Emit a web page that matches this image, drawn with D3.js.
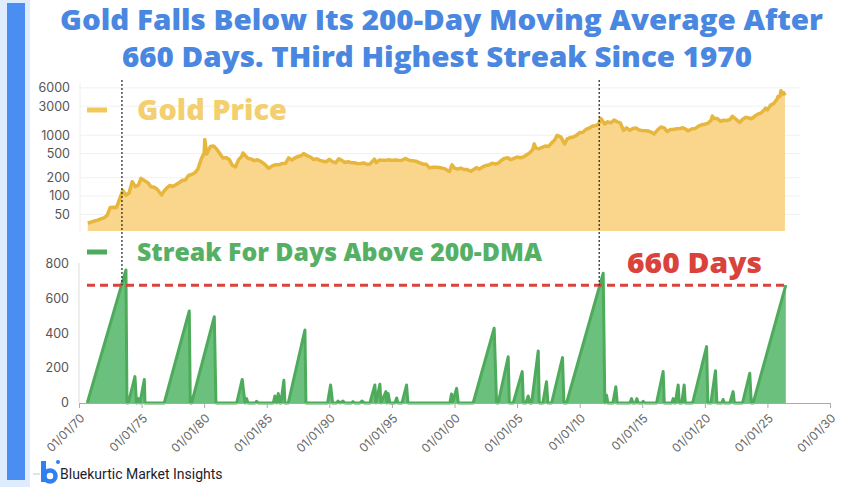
<!DOCTYPE html>
<html>
<head>
<meta charset="utf-8">
<script src="https://cdn.jsdelivr.net/npm/d3@7"></script>
<style>
  body { margin: 0; background: #fff; }
  svg { display: block; }
</style>
</head>
<body>
<div id="chart"></div>
<script>
const width = 860;
const height = 487;

// gold price, [decimal year, USD/oz]
const goldSeries = [
  [1970.70, 36], [1971.00, 37.4], [1971.25, 38.9], [1971.50, 40.1], [1971.75, 42], [1972.00, 43.6],
  [1972.25, 48.3], [1972.50, 65], [1972.75, 65.5], [1973.00, 64.9], [1973.25, 90], [1973.50, 123],
  [1973.75, 103], [1974.00, 112], [1974.25, 172], [1974.50, 143], [1974.75, 152], [1974.95, 195],
  [1975.25, 178], [1975.50, 166], [1975.75, 142], [1976.00, 140], [1976.25, 129], [1976.60, 104],
  [1976.75, 117], [1977.00, 135], [1977.25, 149], [1977.50, 143], [1977.75, 154], [1978.00, 165],
  [1978.25, 182], [1978.50, 184], [1978.75, 218], [1979.00, 226], [1979.25, 241], [1979.50, 278],
  [1979.75, 397], [1980.00, 512], [1980.05, 850], [1980.20, 490], [1980.50, 653], [1980.75, 667],
  [1981.00, 590], [1981.25, 500], [1981.50, 423], [1981.75, 428], [1982.00, 400], [1982.25, 320],
  [1982.50, 300], [1982.75, 397], [1983.00, 448], [1983.10, 510], [1983.50, 415], [1983.75, 405],
  [1984.00, 382], [1984.25, 394], [1984.50, 373], [1984.75, 344], [1985.00, 309], [1985.15, 285],
  [1985.50, 317], [1985.75, 326], [1986.00, 327], [1986.25, 344], [1986.50, 345], [1986.75, 423],
  [1987.00, 391], [1987.25, 421], [1987.50, 448], [1987.75, 459], [1987.95, 500], [1988.25, 456],
  [1988.50, 436], [1988.75, 397], [1989.00, 410], [1989.25, 386], [1989.50, 373], [1989.75, 366],
  [1990.00, 401], [1990.25, 368], [1990.50, 352], [1990.75, 408], [1991.00, 386], [1991.25, 356],
  [1991.50, 366], [1991.75, 354], [1992.00, 353], [1992.25, 341], [1992.50, 343], [1992.75, 350],
  [1993.00, 333], [1993.25, 337], [1993.60, 405], [1993.75, 355], [1994.00, 391], [1994.25, 389],
  [1994.50, 386], [1994.75, 394], [1995.00, 383], [1995.25, 392], [1995.50, 387], [1995.75, 384],
  [1996.10, 415], [1996.25, 396], [1996.50, 382], [1996.75, 379], [1997.00, 369], [1997.25, 349],
  [1997.50, 334], [1997.75, 332], [1998.00, 290], [1998.25, 298], [1998.50, 296], [1998.75, 294],
  [1999.00, 288], [1999.25, 279], [1999.60, 253], [1999.80, 325], [2000.00, 288], [2000.25, 277],
  [2000.50, 288], [2000.75, 273], [2001.00, 272], [2001.30, 256], [2001.50, 270], [2001.75, 293],
  [2002.00, 277], [2002.25, 301], [2002.50, 318], [2002.75, 323], [2003.00, 347], [2003.25, 334],
  [2003.50, 346], [2003.75, 388], [2004.00, 416], [2004.25, 427], [2004.50, 395], [2004.75, 416],
  [2005.00, 438], [2005.25, 427], [2005.50, 437], [2005.75, 473], [2006.00, 513], [2006.25, 582],
  [2006.37, 720], [2006.50, 613], [2006.75, 599], [2007.00, 632], [2007.25, 663], [2007.50, 650],
  [2007.75, 743], [2008.00, 834], [2008.20, 1000], [2008.50, 930], [2008.80, 720], [2009.00, 869],
  [2009.25, 916], [2009.50, 934], [2009.75, 996], [2010.00, 1104], [2010.25, 1115], [2010.50, 1244],
  [2010.75, 1307], [2011.00, 1405], [2011.25, 1439], [2011.50, 1505], [2011.68, 1895], [2012.00, 1531],
  [2012.25, 1662], [2012.50, 1598], [2012.75, 1776], [2013.00, 1657], [2013.25, 1598], [2013.50, 1200],
  [2013.75, 1326], [2014.00, 1205], [2014.25, 1292], [2014.50, 1315], [2014.75, 1217], [2015.00, 1199],
  [2015.25, 1187], [2015.50, 1172], [2015.75, 1115], [2015.95, 1050], [2016.25, 1233], [2016.50, 1365],
  [2016.75, 1322], [2017.00, 1146], [2017.25, 1245], [2017.50, 1242], [2017.75, 1283], [2018.00, 1291],
  [2018.25, 1325], [2018.50, 1250], [2018.65, 1180], [2019.00, 1279], [2019.25, 1292], [2019.50, 1409],
  [2019.75, 1485], [2020.00, 1515], [2020.25, 1577], [2020.50, 1768], [2020.60, 2067], [2020.75, 1886],
  [2021.00, 1888], [2021.25, 1691], [2021.50, 1763], [2021.75, 1743], [2022.00, 1806], [2022.20, 2050],
  [2022.50, 1817], [2022.80, 1630], [2023.00, 1812], [2023.25, 1969], [2023.50, 1919], [2023.75, 1871],
  [2024.00, 2063], [2024.25, 2230], [2024.50, 2330], [2024.75, 2630], [2024.85, 2780], [2025.00, 2610],
  [2025.25, 3120], [2025.50, 3300], [2025.75, 3860], [2025.85, 4350], [2026.00, 4320], [2026.08, 5400],
  [2026.20, 4800], [2026.30, 5000], [2026.40, 4500]
];

// consecutive trading days above the 200-day moving average, [decimal year, days]
const streakSeries = [
  [1970.66, 0], [1973.75, 762], [1973.83, 0], [1973.94, 0], [1974.47, 151], [1974.59, 0],
  [1974.75, 25], [1974.87, 0], [1975.22, 135], [1975.27, 0], [1976.81, 0], [1978.81, 527],
  [1978.89, 0], [1979.00, 0], [1980.81, 494], [1980.94, 0], [1982.60, 0], [1983.04, 135],
  [1983.26, 0], [1983.39, 25], [1983.50, 0], [1984.06, 0], [1984.19, 10], [1984.32, 0],
  [1985.52, 0], [1985.65, 40], [1985.79, 0], [1985.92, 55], [1986.05, 0], [1986.13, 0],
  [1986.37, 130], [1986.45, 0], [1986.72, 0], [1988.05, 418], [1988.13, 0], [1989.86, 0],
  [1990.10, 103], [1990.26, 0], [1990.58, 0], [1990.69, 11], [1990.85, 0], [1991.09, 11],
  [1991.25, 0], [1991.78, 0], [1991.89, 8], [1992.04, 0], [1992.44, 0], [1992.60, 11],
  [1992.82, 0], [1993.24, 0], [1993.64, 103], [1993.72, 0], [1994.04, 107], [1994.12, 0],
  [1994.52, 65], [1994.60, 0], [1994.70, 55], [1994.84, 0], [1995.24, 0], [1995.38, 29],
  [1995.48, 0], [1995.80, 0], [1996.17, 103], [1996.28, 0], [1999.63, 0], [1999.76, 52],
  [1999.83, 0], [2000.17, 84], [2000.30, 0], [2001.49, 0], [2003.17, 428], [2003.36, 0],
  [2003.49, 0], [2004.29, 265], [2004.38, 0], [2004.69, 0], [2005.41, 180], [2005.50, 0],
  [2005.70, 0], [2005.89, 40], [2006.02, 0], [2006.16, 0], [2006.69, 298], [2006.77, 0],
  [2007.06, 0], [2007.35, 122], [2007.46, 0], [2007.76, 0], [2008.63, 260], [2008.74, 0],
  [2008.95, 0], [2011.88, 743], [2012.01, 0], [2012.15, 45], [2012.25, 0], [2012.65, 0],
  [2012.89, 93], [2013.00, 0], [2014.01, 0], [2014.15, 25], [2014.25, 0], [2014.45, 0],
  [2014.57, 25], [2014.67, 0], [2014.97, 0], [2015.07, 10], [2015.21, 0], [2016.14, 0],
  [2016.67, 180], [2016.76, 0], [2017.36, 0], [2017.47, 25], [2017.56, 0], [2017.64, 0],
  [2017.87, 103], [2017.96, 0], [2018.16, 0], [2018.35, 103], [2018.44, 0], [2019.02, 0],
  [2020.14, 323], [2020.24, 0], [2020.48, 0], [2020.85, 185], [2020.96, 0], [2021.36, 0],
  [2021.46, 20], [2021.56, 0], [2022.00, 0], [2022.26, 65], [2022.36, 0], [2023.01, 0],
  [2023.59, 170], [2023.71, 0], [2023.86, 0], [2026.47, 675]
];

const goldTicks = [50, 100, 200, 500, 1000, 3000, 6000];
const streakTicks = [0, 200, 400, 600, 800];
const yearTicks = [1970, 1975, 1980, 1985, 1990, 1995, 2000, 2005, 2010, 2015, 2020, 2025, 2030];
const markerYears = [1973.43, 2011.56];
const recordLevel = 675;

const titleLines = [
  "Gold Falls Below Its 200-Day Moving Average After",
  "660 Days. THird Highest Streak Since 1970"
];

const svg = d3.select("#chart")
    .append("svg")
    .attr("width", width)
    .attr("height", height);

// the reference face is wider than Open Sans: fit to the measured width
function stretch(sel, target) {
    sel.attr("textLength", target).attr("lengthAdjust", "spacingAndGlyphs");
}

// left brand stripe
svg.append("rect").attr("x", 0).attr("y", 0).attr("width", 30).attr("height", height).attr("fill", "#deecfd");
svg.append("rect").attr("x", 7).attr("y", 3).attr("width", 18).attr("height", 477).attr("fill", "#4a8ef2");

// title
const titleX = [60, 122];
const titleWidths = [763, 630];
svg.selectAll(".title")
    .data(titleLines)
    .enter()
    .append("text")
    .attr("class", "title")
    .attr("x", (d, i) => titleX[i])
    .attr("y", (d, i) => 30 + i * 37)
    .attr("font-family", "Open Sans")
    .attr("font-weight", 800)
    .attr("font-size", 28)
    .attr("fill", "#4a87e0")
    .attr("textLength", (d, i) => titleWidths[i])
    .attr("lengthAdjust", "spacingAndGlyphs")
    .text(d => d);

const x = d3.scaleLinear().domain([1970, 2030]).range([79, 830]);
const yGold = d3.scaleLog().domain([26.6, 6694]).range([231, 85]);
const yStreak = d3.scaleLinear().domain([0, 800]).range([403, 263.3]);

// ---- top panel: gold price (log) ----
svg.append("g")
    .selectAll("line")
    .data(goldTicks)
    .enter()
    .append("line")
    .attr("x1", 80).attr("x2", 800)
    .attr("y1", d => yGold(d)).attr("y2", d => yGold(d))
    .attr("stroke", "#f1f1f1");

svg.append("line")
    .attr("x1", 80).attr("x2", 80).attr("y1", 83).attr("y2", 232)
    .attr("stroke", "#eeeeee");

svg.append("g")
    .selectAll("text")
    .data(goldTicks)
    .enter()
    .append("text")
    .attr("x", 70)
    .attr("y", d => yGold(d))
    .attr("dy", "0.35em")
    .attr("text-anchor", "end")
    .attr("font-family", "Inter")
    .attr("font-size", 12.5)
    .attr("fill", "#555")
    .text(d => d);

const goldArea = d3.area()
    .x(d => x(d[0]))
    .y0(yGold(26.6))
    .y1(d => yGold(d[1]));

const goldLine = d3.line()
    .x(d => x(d[0]))
    .y(d => yGold(d[1]));

svg.append("path")
    .datum(goldSeries)
    .attr("d", goldArea)
    .attr("fill", "#f9d68b");

svg.append("path")
    .datum(goldSeries)
    .attr("d", goldLine)
    .attr("fill", "none")
    .attr("stroke", "#e6b73c")
    .attr("stroke-width", 3.5)
    .attr("stroke-linejoin", "round");

// legend top
svg.append("line")
    .attr("x1", 87).attr("x2", 107).attr("y1", 110).attr("y2", 110)
    .attr("stroke", "#f2c85a").attr("stroke-width", 5);
svg.append("text")
    .attr("x", 137).attr("y", 120)
    .attr("font-family", "Open Sans").attr("font-weight", 800).attr("font-size", 28)
    .attr("fill", "#f3cf6f")
    .text("Gold Price")
    .call(stretch, 150);

// ---- bottom panel: streak ----
svg.append("line")
    .attr("x1", 79).attr("x2", 79).attr("y1", 263).attr("y2", 403)
    .attr("stroke", "#dddddd");

svg.append("g")
    .selectAll("text")
    .data(streakTicks)
    .enter()
    .append("text")
    .attr("x", 69)
    .attr("y", d => yStreak(d))
    .attr("dy", "0.35em")
    .attr("text-anchor", "end")
    .attr("font-family", "Inter")
    .attr("font-size", 12.5)
    .attr("fill", "#555")
    .text(d => d);

const streakArea = d3.area()
    .x(d => x(d[0]))
    .y0(yStreak(0))
    .y1(d => yStreak(d[1]));

const streakLine = d3.line()
    .x(d => x(d[0]))
    .y(d => yStreak(d[1]));

svg.append("path")
    .datum(streakSeries)
    .attr("d", streakArea)
    .attr("fill", "#6cc07d");

svg.append("path")
    .datum(streakSeries)
    .attr("d", streakLine)
    .attr("fill", "none")
    .attr("stroke", "#4fab5c")
    .attr("stroke-width", 3)
    .attr("stroke-linejoin", "round");

// x axis
const xAxis = d3.axisBottom(x)
    .tickValues(yearTicks)
    .tickSize(5)
    .tickFormat(d => "01/01/" + String(d % 100).padStart(2, "0"));

const gx = svg.append("g")
    .attr("transform", `translate(0,${yStreak(0)})`)
    .call(xAxis);
gx.select(".domain").attr("stroke", "#aaaaaa");
gx.selectAll(".tick line").attr("stroke", "#aaaaaa");
gx.selectAll(".tick text")
    .attr("font-family", "Inter")
    .attr("font-size", 12)
    .attr("fill", "#666")
    .attr("text-anchor", "end")
    .attr("transform", "translate(3,13) rotate(-45)")
    .attr("dy", "0.35em")
    .attr("y", 0);

// record level
svg.append("line")
    .attr("x1", 87).attr("x2", x(2026.47))
    .attr("y1", yStreak(recordLevel)).attr("y2", yStreak(recordLevel))
    .attr("stroke", "#d9433b")
    .attr("stroke-width", 3)
    .attr("stroke-dasharray", "8,5");

svg.append("text")
    .attr("x", 627).attr("y", 273)
    .attr("font-family", "Open Sans").attr("font-weight", 800).attr("font-size", 29)
    .attr("fill", "#d9433b")
    .text("660 Days")
    .call(stretch, 135);

// markers where the streak crossed the record
svg.selectAll(".marker")
    .data(markerYears)
    .enter()
    .append("line")
    .attr("class", "marker")
    .attr("x1", d => x(d)).attr("x2", d => x(d))
    .attr("y1", 80).attr("y2", yStreak(recordLevel))
    .attr("stroke", "#222")
    .attr("stroke-width", 1.2)
    .attr("stroke-dasharray", "2,2");

// legend bottom
svg.append("line")
    .attr("x1", 87).attr("x2", 107).attr("y1", 252).attr("y2", 252)
    .attr("stroke", "#4fab5c").attr("stroke-width", 5);
svg.append("text")
    .attr("x", 137).attr("y", 261)
    .attr("font-family", "Open Sans").attr("font-weight", 800).attr("font-size", 24)
    .attr("fill", "#55b065")
    .text("Streak For Days Above 200-DMA")
    .call(stretch, 405);

// footer logo
svg.append("line").attr("x1", 33).attr("x2", 40).attr("y1", 474).attr("y2", 474).attr("stroke", "#c8c8c8");
svg.append("rect").attr("x", 41).attr("y", 461).attr("width", 5).attr("height", 21).attr("fill", "#2f7ff5");
svg.append("circle").attr("cx", 50).attr("cy", 476).attr("r", 5.5)
    .attr("fill", "none").attr("stroke", "#2f7ff5").attr("stroke-width", 4.5);
svg.append("circle").attr("cx", 58).attr("cy", 462).attr("r", 2).attr("fill", "#2f7ff5");
svg.append("text")
    .attr("x", 60).attr("y", 479)
    .attr("font-family", "Roboto")
    .attr("font-size", 14)
    .attr("fill", "#1d1d2b")
    .text("Bluekurtic Market Insights");
</script>
</body>
</html>
